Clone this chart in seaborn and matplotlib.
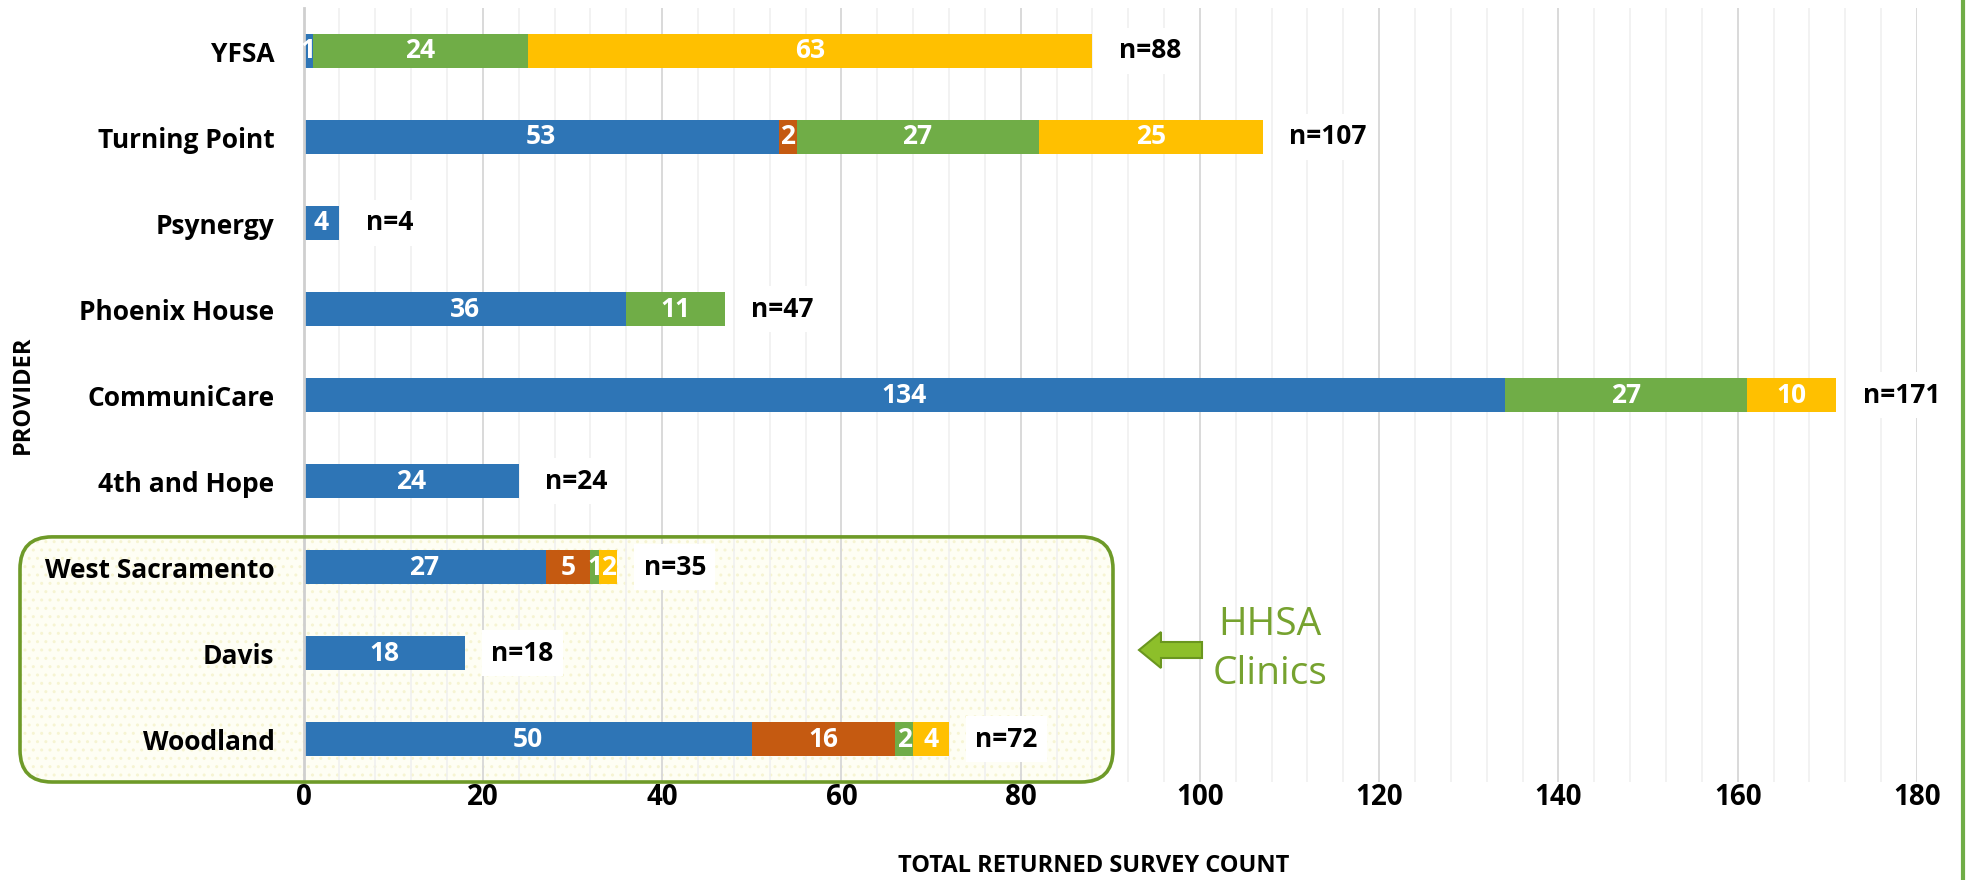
import numpy as np
import pandas as pd
import matplotlib
matplotlib.use("Agg")
import matplotlib.pyplot as plt
import seaborn as sns
from matplotlib.patches import FancyBboxPatch, Polygon
from matplotlib.ticker import MultipleLocator
from matplotlib.transforms import IdentityTransform
from matplotlib.lines import Line2D

# ---------------- data ----------------
providers = ["YFSA", "Turning Point", "Psynergy", "Phoenix House", "CommuniCare",
             "4th and Hope", "West Sacramento", "Davis", "Woodland"]
series_names = ["Series 1", "Series 2", "Series 3", "Series 4"]
series_1 = [1, 53, 4, 36, 134, 24, 27, 18, 50]
series_2 = [0, 2, 0, 0, 0, 0, 5, 0, 16]
series_3 = [24, 27, 0, 11, 27, 0, 1, 0, 2]
series_4 = [63, 25, 0, 0, 10, 0, 2, 0, 4]
totals = [88, 107, 4, 47, 171, 24, 35, 18, 72]
hhsa_clinics = ["West Sacramento", "Davis", "Woodland"]
x_ticks = [0, 20, 40, 60, 80, 100, 120, 140, 160, 180]
colors = ["#2E75B6", "#C55A11", "#70AD47", "#FFC000"]

# ---------------- frame ----------------
vals = np.array([series_1, series_2, series_3, series_4], dtype=float)
cum_end = vals.cumsum(axis=0)
cum_start = cum_end - vals
rows = []
for s, name in enumerate(series_names):
    for p, prov in enumerate(providers):
        rows.append(dict(provider=prov, series=name, value=vals[s, p],
                         start=cum_start[s, p], end=cum_end[s, p]))
df = pd.DataFrame(rows)

sns.set_theme(style="white")
plt.rcParams["font.family"] = ["Open Sans", "DejaVu Sans"]
plt.rcParams["hatch.linewidth"] = 1.0

W, H = 1967, 880
fig = plt.figure(figsize=(W / 100, H / 100), dpi=100)
fig.patch.set_facecolor("white")
ax = fig.add_axes([303.6 / W, 1 - 782 / H, (1917 - 303.6) / W, (782 - 8) / H])
ax.patch.set_alpha(0)

# stacked bars: draw cumulative ends from the last series to the first
for s in reversed(range(len(series_names))):
    sub = df[df.series == series_names[s]]
    sns.barplot(data=sub, x="end", y="provider", order=providers, orient="h",
                color=colors[s], width=0.4, linewidth=0, saturation=1,
                ax=ax, zorder=3)

ax.set_xlim(x_ticks[0], x_ticks[-1])
ax.set_ylim(len(providers) - 0.5, -0.5)
ax.xaxis.set_minor_locator(MultipleLocator(4))
ax.set_xticks(x_ticks)
ax.grid(which="major", axis="x", color="#D9D9D9", lw=1.4)
ax.grid(which="minor", axis="x", color="#EFEFEF", lw=1.1)
ax.grid(which="both", axis="y", visible=False)
ax.set_axisbelow(True)
for sp in ["top", "right", "bottom"]:
    ax.spines[sp].set_visible(False)
ax.spines["left"].set_color("#CFCFCF")
ax.spines["left"].set_linewidth(2)
ax.spines["left"].set_zorder(4)

ax.tick_params(axis="x", which="both", length=0, pad=1, labelsize=20)
ax.tick_params(axis="y", length=0, pad=21, labelsize=19)
for lab in ax.get_xticklabels() + ax.get_yticklabels():
    lab.set_fontweight("bold")
    lab.set_color("black")

ax.set_xlabel("TOTAL RETURNED SURVEY COUNT", fontsize=17, fontweight="bold", color="black")
ax.xaxis.set_label_coords(0.49, (782 - 866) / 774)
ax.xaxis.label.set_va("center")
ax.set_ylabel("PROVIDER", fontsize=17, fontweight="bold", color="black")
ax.yaxis.set_label_coords((23 - 303.6) / 1613.4, 0.5)
ax.yaxis.label.set_va("center")

# segment labels
for _, r in df.iterrows():
    if r.value > 0:
        ax.text((r.start + r.end) / 2, providers.index(r.provider), f"{int(r.value)}",
                ha="center", va="center", color="white", fontsize=19,
                fontweight="bold", zorder=6)

# total labels
for p, tot in enumerate(totals):
    ax.annotate(f"n={tot}", xy=(cum_end[-1, p], p), xytext=(19, 0),
                textcoords="offset points", ha="left", va="center",
                fontsize=19, fontweight="bold", color="black", zorder=6,
                bbox=dict(boxstyle="square,pad=0.35", fc="white", ec="none"))

fig.canvas.draw()

# HHSA rounded box (pixel coordinates derived from the axes), drawn behind the axes
i_top = providers.index(hhsa_clinics[0])
i_bot = providers.index(hhsa_clinics[-1])
_, y_top = ax.transData.transform((0, i_top - 0.35))
x_right, y_bot = ax.transData.transform((90.3, i_bot + 0.5))
x_left = 20
bx = dict(boxstyle="round,pad=0,rounding_size=32", transform=IdentityTransform())
box_fill = FancyBboxPatch((x_left, y_bot), x_right - x_left, y_top - y_bot,
                          fc="#FEFEF4", ec="none", zorder=-2, **bx)
fig.add_artist(box_fill)
box_dots = FancyBboxPatch((x_left, y_bot), x_right - x_left, y_top - y_bot,
                          fc="none", ec="#F6F4D2", lw=0, hatch="..", zorder=-1, **bx)
fig.add_artist(box_dots)
box_edge = FancyBboxPatch((x_left, y_bot), x_right - x_left, y_top - y_bot,
                          fc="none", ec="#6E9A28", lw=2.6, zorder=7, **bx)
fig.add_artist(box_edge)

# arrow + HHSA Clinics text
cy = H - 650
arrow = Polygon([(1139, cy), (1161, cy + 18), (1161, cy + 8), (1202, cy + 8),
                 (1202, cy - 8), (1161, cy - 8), (1161, cy - 18)], closed=True,
                transform=IdentityTransform(), fc="#8DBF2A", ec="#6A961F", lw=1.5, zorder=8)
fig.add_artist(arrow)
fig.text(1270 / W, 1 - 625 / H, "HHSA", ha="center", va="center", fontsize=28,
         color="#76A22F", family=["Liberation Sans Narrow", "Open Sans", "DejaVu Sans"])
fig.text(1270 / W, 1 - 674 / H, "Clinics", ha="center", va="center", fontsize=28,
         color="#76A22F", family=["Liberation Sans Narrow", "Open Sans", "DejaVu Sans"])

# green right edge line
fig.add_artist(Line2D([1963 / W, 1963 / W], [0, 1], color="#70AD47", lw=3,
                      transform=fig.transFigure))

fig.savefig("out.png", dpi=100)
